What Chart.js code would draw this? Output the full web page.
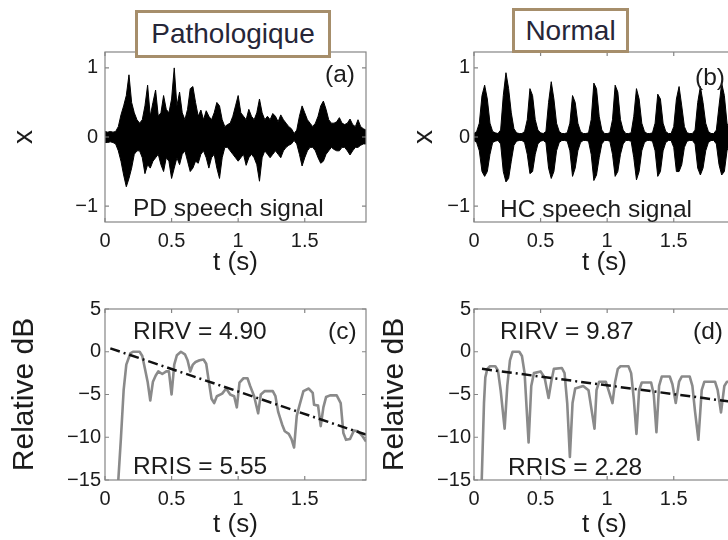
<!DOCTYPE html>
<html>
<head>
<meta charset="utf-8">
<script src="https://cdn.jsdelivr.net/npm/chart.js@4.4.1/dist/chart.umd.min.js"></script>
<style>
  html, body { margin: 0; padding: 0; background: #fff; }
  body { width: 728px; height: 540px; overflow: hidden; position: relative; font-family: 'Liberation Sans', Arial, sans-serif; }
  canvas { position: absolute; }
  .note { position: absolute; font-size: 24.5px; line-height: 1; color: #1c1c1c; white-space: nowrap; }
  .tag { position: absolute; box-sizing: border-box; border: 3px solid #a68e6b; background: #fff;
         color: #262638; font-size: 28px; text-align: center; white-space: nowrap; }
</style>
</head>
<body>
<canvas id="pa" width="380" height="290" style="left:0;top:0"></canvas>
<canvas id="pb" width="380" height="290" style="left:380px;top:0"></canvas>
<canvas id="pc" width="380" height="250" style="left:0;top:290px"></canvas>
<canvas id="pd" width="380" height="250" style="left:380px;top:290px"></canvas>

<div class="tag" style="left:135px;top:10px;width:196px;height:48px;line-height:42px">Pathologique</div>
<div class="tag" style="left:512px;top:8px;width:117px;height:45px;line-height:39px">Normal</div>

<div class="note" style="left:325px;top:62px">(a)</div>
<div class="note" style="left:133px;top:196px">PD speech signal</div>
<div class="note" style="left:695px;top:65px">(b)</div>
<div class="note" style="left:500px;top:197px">HC speech signal</div>
<div class="note" style="left:133px;top:319px">RIRV = 4.90</div>
<div class="note" style="left:328px;top:319px">(c)</div>
<div class="note" style="left:133px;top:454px">RRIS = 5.55</div>
<div class="note" style="left:500px;top:319px">RIRV = 9.87</div>
<div class="note" style="left:693px;top:319px">(d)</div>
<div class="note" style="left:508px;top:455px">RRIS = 2.28</div>

<script>
const FONT = "'Liberation Sans', Arial, sans-serif";
const TEXT = "#1c1c1c";
const FRAME = "#858585";

// time bins of the speech signals (s)
const T_SIG = [
  0.00, 0.02, 0.04, 0.06, 0.08, 0.10, 0.12, 0.14, 0.16, 0.18,
  0.20, 0.22, 0.24, 0.26, 0.28, 0.30, 0.32, 0.34, 0.36, 0.38,
  0.40, 0.42, 0.44, 0.46, 0.48, 0.50, 0.52, 0.54, 0.56, 0.58,
  0.60, 0.62, 0.64, 0.66, 0.68, 0.70, 0.72, 0.74, 0.76, 0.78,
  0.80, 0.82, 0.84, 0.86, 0.88, 0.90, 0.92, 0.94, 0.96, 0.98,
  1.00, 1.02, 1.04, 1.06, 1.08, 1.10, 1.12, 1.14, 1.16, 1.18,
  1.20, 1.22, 1.24, 1.26, 1.28, 1.30, 1.32, 1.34, 1.36, 1.38,
  1.40, 1.42, 1.44, 1.46, 1.48, 1.50, 1.52, 1.54, 1.56, 1.58,
  1.60, 1.62, 1.64, 1.66, 1.68, 1.70, 1.72, 1.74, 1.76, 1.78,
  1.80, 1.82, 1.84, 1.86, 1.88, 1.90, 1.92, 1.94, 1.96
];

// (a) PD speech signal: envelope max / min per bin
const A_HI = [
  0.08, 0.07, 0.08, 0.07, 0.08, 0.15, 0.32, 0.45, 0.6, 0.9,
  0.5, 0.35, 0.25, 0.2, 0.25, 0.45, 0.75, 0.3, 0.5, 0.68,
  0.3, 0.35, 0.6, 0.4, 0.35, 0.55, 1.0, 0.45, 0.65, 0.35,
  0.25, 0.4, 0.7, 0.73, 0.5, 0.3, 0.39, 0.25, 0.38, 0.3,
  0.25, 0.35, 0.5, 0.45, 0.25, 0.15, 0.18, 0.2, 0.3, 0.45,
  0.6, 0.35, 0.3, 0.25, 0.4, 0.3, 0.25, 0.35, 0.55, 0.35,
  0.25, 0.3, 0.25, 0.34, 0.3, 0.22, 0.32, 0.25, 0.2, 0.15,
  0.12, 0.05, 0.1, 0.3, 0.45, 0.35, 0.25, 0.2, 0.15, 0.2,
  0.3, 0.45, 0.52, 0.4, 0.25, 0.2, 0.2, 0.22, 0.28, 0.2,
  0.18, 0.2, 0.26, 0.18, 0.15, 0.25, 0.15, 0.12, 0.1
];
const A_LO = [
  -0.08, -0.08, -0.07, -0.08, -0.1, -0.2, -0.35, -0.55, -0.72, -0.6,
  -0.45, -0.25, -0.2, -0.2, -0.3, -0.53, -0.4, -0.45, -0.35, -0.3,
  -0.25, -0.4, -0.5, -0.3, -0.35, -0.6, -0.45, -0.3, -0.4, -0.25,
  -0.2, -0.35, -0.5, -0.45, -0.35, -0.38, -0.25, -0.2, -0.3, -0.45,
  -0.3, -0.25, -0.45, -0.6, -0.3, -0.15, -0.15, -0.2, -0.25, -0.3,
  -0.35, -0.3, -0.25, -0.41, -0.3, -0.25, -0.3, -0.4, -0.64, -0.3,
  -0.2, -0.25, -0.3, -0.25, -0.2, -0.25, -0.3, -0.2, -0.15, -0.12,
  -0.1, -0.05, -0.1, -0.25, -0.42, -0.3, -0.2, -0.15, -0.15, -0.2,
  -0.3, -0.38, -0.35, -0.25, -0.2, -0.15, -0.18, -0.2, -0.2, -0.15,
  -0.15, -0.2, -0.26, -0.2, -0.15, -0.15, -0.12, -0.1, -0.1
];

// (b) HC speech signal
const B_HI = [
  0.05, 0.08, 0.2, 0.6, 0.75, 0.55, 0.2, 0.08, 0.06, 0.05,
  0.1, 0.6, 0.93, 0.7, 0.35, 0.12, 0.06, 0.05, 0.05, 0.08,
  0.25, 0.7, 0.6, 0.25, 0.1, 0.06, 0.05, 0.08, 0.5, 0.8,
  0.55, 0.2, 0.08, 0.05, 0.05, 0.06, 0.2, 0.6, 0.5, 0.2,
  0.08, 0.05, 0.05, 0.06, 0.25, 0.78, 0.7, 0.3, 0.1, 0.05,
  0.05, 0.06, 0.25, 0.75, 0.65, 0.25, 0.1, 0.05, 0.05, 0.06,
  0.3, 0.7, 0.55, 0.2, 0.08, 0.05, 0.05, 0.06, 0.2, 0.62,
  0.55, 0.2, 0.08, 0.05, 0.05, 0.15, 0.55, 0.73, 0.45, 0.15,
  0.06, 0.05, 0.05, 0.1, 0.5, 0.73, 0.5, 0.2, 0.08, 0.05,
  0.05, 0.1, 0.45, 0.78, 0.6, 0.2, 0.08, 0.05, 0.05
];
const B_LO = [
  -0.05, -0.08, -0.2, -0.5, -0.57, -0.5, -0.25, -0.08, -0.06, -0.05,
  -0.1, -0.5, -0.65, -0.6, -0.35, -0.12, -0.06, -0.05, -0.05, -0.08,
  -0.25, -0.53, -0.5, -0.25, -0.1, -0.06, -0.05, -0.08, -0.45, -0.6,
  -0.5, -0.2, -0.08, -0.05, -0.05, -0.06, -0.2, -0.57, -0.45, -0.2,
  -0.08, -0.05, -0.05, -0.06, -0.25, -0.63, -0.55, -0.3, -0.1, -0.05,
  -0.05, -0.06, -0.25, -0.57, -0.5, -0.25, -0.1, -0.05, -0.05, -0.06,
  -0.3, -0.62, -0.5, -0.2, -0.08, -0.05, -0.05, -0.06, -0.2, -0.57,
  -0.5, -0.2, -0.08, -0.05, -0.05, -0.15, -0.5, -0.5, -0.4, -0.15,
  -0.06, -0.05, -0.05, -0.1, -0.45, -0.55, -0.45, -0.2, -0.08, -0.05,
  -0.05, -0.1, -0.4, -0.55, -0.5, -0.2, -0.08, -0.05, -0.05
];

// (c) PD intensity contour (relative dB)
const C_T = [0.10, 0.12, 0.14, 0.16, 0.19, 0.21, 0.26, 0.28, 0.30, 0.32,
  0.34, 0.36, 0.38, 0.40, 0.43, 0.46, 0.48, 0.50, 0.52, 0.54,
  0.57, 0.60, 0.62, 0.64, 0.66, 0.68, 0.71, 0.74, 0.76, 0.78,
  0.80, 0.82, 0.84, 0.88, 0.91, 0.94, 0.97, 0.99, 1.01, 1.04,
  1.07, 1.09, 1.12, 1.15, 1.17, 1.20, 1.26, 1.28, 1.30, 1.33,
  1.35, 1.38, 1.40, 1.42, 1.44, 1.46, 1.49, 1.53, 1.56, 1.57,
  1.60, 1.62, 1.64, 1.66, 1.69, 1.74, 1.77, 1.79, 1.81, 1.84,
  1.87, 1.90, 1.93, 1.96];
const C_DB = [-15, -10, -4.5, -1.5, -0.2, 0, 0, -0.5, -2.0, -3.5,
  -5.7, -3.5, -2.8, -2.3, -2.6, -2.3, -2.3, -5.0, -1.5, -0.4,
  0, -0.3, -1.0, -2.3, -1.5, -1.2, -1.0, -0.9, -1.4, -3.5,
  -5.5, -6.0, -5.2, -4.9, -4.3, -5.0, -5.2, -6.5, -3.6, -3.1,
  -3.1, -4.0, -5.2, -7.2, -5.0, -4.6, -4.6, -5.2, -7.0, -8.5,
  -9.3, -9.6, -10.2, -11.2, -7.5, -6.3, -4.6, -4.3, -4.8, -6.2,
  -6.3, -8.7, -6.5, -5.3, -5.1, -5.1, -6.0, -9.5, -10.3, -10.2,
  -9.2, -9.3, -9.8, -10.5];
const C_FIT_T = [0.04, 1.96];
const C_FIT_DB = [0.4, -9.7];

// (d) HC intensity contour (relative dB)
const D_T = [0.058, 0.075, 0.085, 0.10, 0.12, 0.16, 0.18, 0.20, 0.23, 0.25,
  0.27, 0.29, 0.34, 0.36, 0.38, 0.41, 0.43, 0.45, 0.50, 0.53,
  0.56, 0.58, 0.60, 0.66, 0.68, 0.70, 0.72, 0.74, 0.76, 0.82,
  0.86, 0.89, 0.905, 0.92, 0.94, 0.99, 1.01, 1.04, 1.06, 1.08,
  1.10, 1.16, 1.18, 1.20, 1.22, 1.24, 1.26, 1.33, 1.35, 1.37,
  1.39, 1.41, 1.47, 1.49, 1.515, 1.54, 1.56, 1.62, 1.64, 1.66,
  1.685, 1.71, 1.73, 1.81, 1.83, 1.855, 1.88, 1.90, 1.96];
const D_DB = [-15, -6, -3.0, -2.0, -1.7, -1.7, -2.2, -4.5, -9.0, -4.0,
  -1.0, 0, 0, -0.5, -2.5, -10.6, -4.0, -2.5, -2.3, -3.0,
  -5.4, -3.5, -2.0, -1.9, -2.5, -6.0, -12.3, -6.0, -4.3, -4.0,
  -4.5, -7.5, -9.0, -4.5, -3.5, -3.5, -4.5, -6.0, -3.5, -2.0,
  -1.7, -1.7, -2.5, -5.5, -9.6, -4.5, -3.6, -3.6, -5.0, -9.4,
  -4.0, -2.9, -2.9, -3.8, -6.0, -3.5, -2.9, -2.9, -4.0, -7.0,
  -10.3, -4.5, -3.5, -3.5, -4.5, -7.1, -4.0, -3.5, -3.5];
const D_FIT_T = [0.06, 1.96];
const D_FIT_DB = [-2.0, -5.9];

const X_TICKS = [0, 0.5, 1, 1.5];
const SIG_TICKS = [-1, 0, 1];
const DB_TICKS = [5, 0, -5, -10, -15];

const fmt = (v) => (v < 0 ? "\u2212" + Math.abs(v) : String(v));
const zip = (xs, ys) => xs.map((x, i) => ({ x, y: ys[i] }));

// matlab-style box with inward ticks on all four sides
const framePlugin = {
  id: "frame",
  afterDatasetsDraw(chart) {
    const { ctx, chartArea: a } = chart;
    const xs = chart.scales.x, ys = chart.scales.y;
    ctx.save();
    ctx.strokeStyle = FRAME;
    ctx.lineWidth = 1.2;
    ctx.strokeRect(a.left, a.top, a.right - a.left, a.bottom - a.top);
    ctx.beginPath();
    xs.ticks.forEach((t) => {
      const x = xs.getPixelForValue(t.value);
      ctx.moveTo(x, a.bottom); ctx.lineTo(x, a.bottom - 4);
      ctx.moveTo(x, a.top); ctx.lineTo(x, a.top + 4);
    });
    ys.ticks.forEach((t) => {
      const y = ys.getPixelForValue(t.value);
      ctx.moveTo(a.left, y); ctx.lineTo(a.left + 4, y);
      ctx.moveTo(a.right, y); ctx.lineTo(a.right - 4, y);
    });
    ctx.stroke();
    ctx.restore();
  },
};

function options(o) {
  return {
    responsive: false,
    animation: false,
    events: [],
    layout: { padding: o.pad },
    plugins: { legend: { display: false }, tooltip: { enabled: false }, filler: { propagate: false } },
    scales: {
      x: {
        type: "linear",
        min: 0,
        max: 1.96,
        offset: false,
        grid: { display: false, drawTicks: false },
        border: { display: false },
        afterBuildTicks: (s) => { s.ticks = X_TICKS.map((v) => ({ value: v })); },
        afterFit: (s) => { s.height = o.xh; },
        ticks: { padding: 7, color: TEXT, font: { family: FONT, size: 20 }, maxRotation: 0, autoSkip: false, callback: fmt },
        title: { display: true, text: "t (s)", color: TEXT, font: { family: FONT, size: 26, lineHeight: 1 }, padding: 0 },
      },
      y: {
        type: "linear",
        min: o.ymin,
        max: o.ymax,
        grid: { display: false, drawTicks: false },
        border: { display: false },
        afterBuildTicks: (s) => { s.ticks = o.yticks.map((v) => ({ value: v })); },
        afterFit: (s) => { s.width = o.yw; },
        ticks: { padding: o.ytp, color: TEXT, font: { family: FONT, size: 20 }, autoSkip: false, callback: fmt },
        title: {
          display: true, text: o.ytitle, color: TEXT,
          font: { family: FONT, size: o.ytsize, lineHeight: 1 },
          padding: { top: o.ytpad, bottom: 0 },
        },
      },
    },
  };
}

// waveform drawn as the filled band between its upper and lower envelope
function signalChart(id, hi, lo, o) {
  return new Chart(document.getElementById(id), {
    type: "line",
    data: {
      datasets: [
        { data: zip(T_SIG, hi), borderColor: "#000", backgroundColor: "#000", borderWidth: 1, pointRadius: 0, fill: "+1" },
        { data: zip(T_SIG, lo), borderColor: "#000", borderWidth: 1, pointRadius: 0, fill: false },
      ],
    },
    options: options({ ...o, ymin: -1.23, ymax: 1.23, yticks: SIG_TICKS, ytitle: "x", ytsize: 28 }),
    plugins: [framePlugin],
  });
}

function levelChart(id, t, db, ft, fdb, o) {
  return new Chart(document.getElementById(id), {
    type: "line",
    data: {
      datasets: [
        { data: zip(ft, fdb), borderColor: "#111", borderWidth: 2.5, borderDash: [10, 4, 2, 4], pointRadius: 0 },
        { data: zip(t, db), borderColor: "#8a8a8a", borderWidth: 2.6, pointRadius: 0, borderJoinStyle: "round" },
      ],
    },
    options: options({ ...o, ymin: -15, ymax: 5, yticks: DB_TICKS, ytitle: "Relative dB", ytsize: 30 }),
    plugins: [framePlugin],
  });
}

signalChart("pa", A_HI, A_LO, { pad: { top: 52, right: 14, bottom: 14, left: 0 }, xh: 54, yw: 105, ytp: 7, ytpad: 10 });
signalChart("pb", B_HI, B_LO, { pad: { top: 52, right: 25, bottom: 14, left: 0 }, xh: 54, yw: 94, ytp: 4, ytpad: 30 });
levelChart("pc", C_T, C_DB, C_FIT_T, C_FIT_DB, { pad: { top: 19, right: 14, bottom: 2, left: 0 }, xh: 58, yw: 105, ytp: 4, ytpad: 10 });
levelChart("pd", D_T, D_DB, D_FIT_T, D_FIT_DB, { pad: { top: 19, right: 25, bottom: 2, left: 0 }, xh: 58, yw: 94, ytp: 3, ytpad: 0 });
</script>
</body>
</html>
